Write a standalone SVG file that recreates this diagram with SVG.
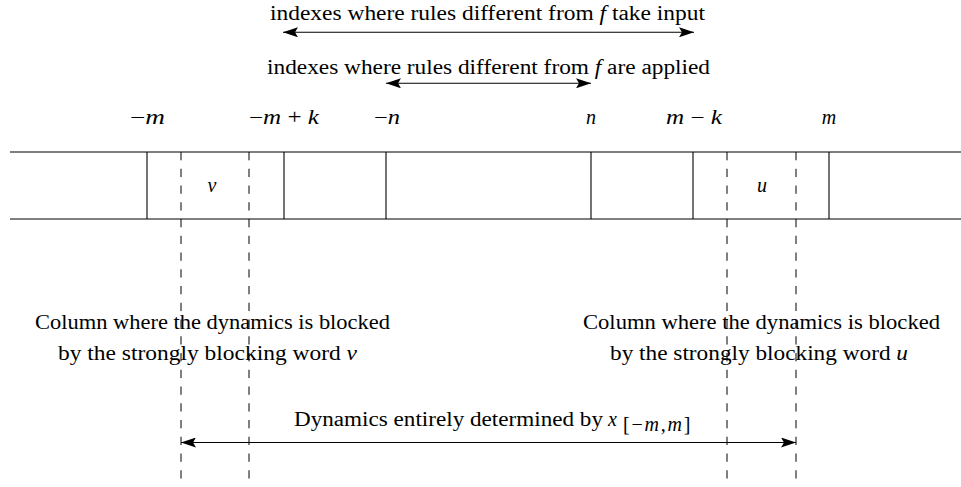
<svg xmlns="http://www.w3.org/2000/svg" width="961" height="487" viewBox="0 0 961 487">
<style>
text{font-family:"Liberation Serif","DejaVu Serif",serif;font-size:20px;fill:#000}
.m{font-style:italic}
.solid{stroke:#000;stroke-width:1.1;fill:none}
.dash{stroke:#000;stroke-width:1;stroke-dasharray:8.3,8.45;fill:none}
.arr{stroke:#000;stroke-width:1.1;fill:none;marker-start:url(#ah);marker-end:url(#ah)}
</style>
<defs>
<marker id="ah" viewBox="0 0 15 10" refX="15" refY="5" markerWidth="15" markerHeight="10" markerUnits="userSpaceOnUse" orient="auto-start-reverse">
<path d="M0,0 L15,5 L0,10 L3,5 Z" fill="#000"/>
</marker>
</defs>
<rect width="961" height="487" fill="#fff"/>
<g id="tape">
<line class="solid" x1="10" y1="152" x2="961" y2="152"/>
<line class="solid" x1="10" y1="219" x2="961" y2="219"/>
<line class="solid" x1="147" y1="152" x2="147" y2="219"/>
<line class="solid" x1="284" y1="152" x2="284" y2="219"/>
<line class="solid" x1="386" y1="152" x2="386" y2="219"/>
<line class="solid" x1="591" y1="152" x2="591" y2="219"/>
<line class="solid" x1="693" y1="152" x2="693" y2="219"/>
<line class="solid" x1="829" y1="152" x2="829" y2="219"/>
</g>
<g id="columns">
<line class="dash" x1="181" y1="152" x2="181" y2="487"/>
<line class="dash" x1="249" y1="152" x2="249" y2="487"/>
<line class="dash" x1="727" y1="152" x2="727" y2="487"/>
<line class="dash" x1="796" y1="152" x2="796" y2="487"/>
</g>
<g id="indices">
<text x="130" y="123.5" textLength="35" lengthAdjust="spacingAndGlyphs">−<tspan class="m">m</tspan></text>
<text x="249" y="123.5" textLength="70" lengthAdjust="spacingAndGlyphs">−<tspan class="m">m</tspan> + <tspan class="m">k</tspan></text>
<text x="374" y="123.5" textLength="26" lengthAdjust="spacingAndGlyphs">−<tspan class="m">n</tspan></text>
<text x="591" y="123.5" text-anchor="middle" class="m">n</text>
<text x="666" y="123.5" textLength="56" lengthAdjust="spacingAndGlyphs"><tspan class="m">m</tspan> − <tspan class="m">k</tspan></text>
<text x="829" y="123.5" text-anchor="middle" class="m">m</text>
</g>
<g id="words">
<text x="212" y="192" text-anchor="middle" class="m">v</text>
<text x="762" y="192" text-anchor="middle" class="m">u</text>
</g>
<g id="labels">
<text x="270" y="19.5" textLength="435" lengthAdjust="spacingAndGlyphs">indexes where rules different from <tspan class="m">f</tspan> take input</text>
<text x="267" y="73.5" textLength="443" lengthAdjust="spacingAndGlyphs">indexes where rules different from <tspan class="m">f</tspan> are applied</text>
<text x="35" y="329" textLength="355" lengthAdjust="spacingAndGlyphs">Column where the dynamics is blocked</text>
<text x="58" y="360" textLength="299" lengthAdjust="spacingAndGlyphs">by the strongly blocking word <tspan class="m">v</tspan></text>
<text x="583" y="329" textLength="357" lengthAdjust="spacingAndGlyphs">Column where the dynamics is blocked</text>
<text x="610" y="360" textLength="298" lengthAdjust="spacingAndGlyphs">by the strongly blocking word <tspan class="m">u</tspan></text>
<text x="294" y="426" textLength="309" lengthAdjust="spacingAndGlyphs">Dynamics entirely determined by</text>
<text x="608" y="426" class="m">x</text>
<text x="623" y="431" font-size="16" letter-spacing="1.8">[−<tspan class="m">m</tspan>,<tspan class="m">m</tspan>]</text>
</g>
<g id="connectors">
<line class="arr" x1="283" y1="32.3" x2="694" y2="32.3"/>
<line class="arr" x1="386" y1="83.3" x2="591" y2="83.3"/>
<line class="arr" x1="181" y1="442.5" x2="796" y2="442.5"/>
</g>
</svg>
